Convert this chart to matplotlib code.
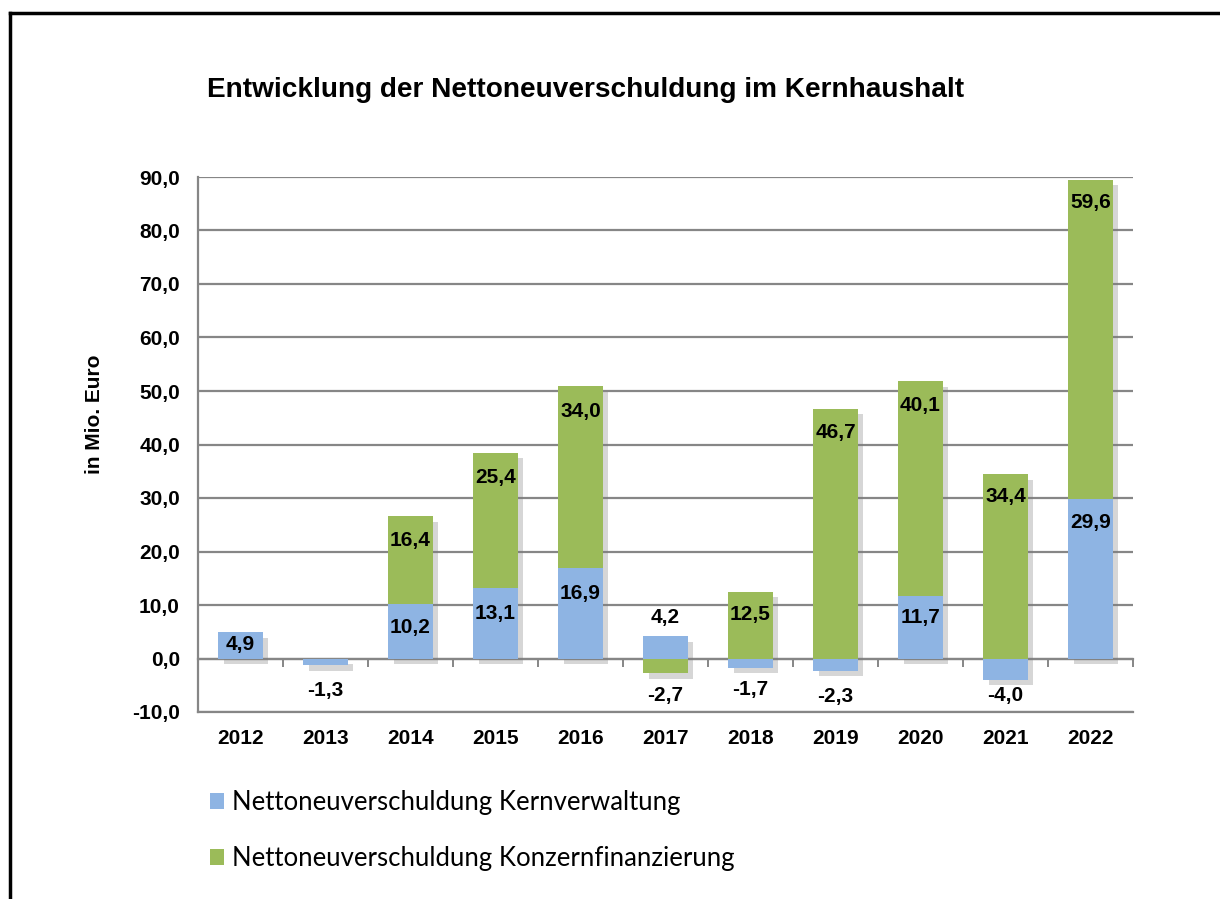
import numpy as np
import matplotlib
matplotlib.use("Agg")
import matplotlib.pyplot as plt
import matplotlib.patheffects as pe
from matplotlib.lines import Line2D

# Daten (in Mio. Euro)
jahre = ["2012", "2013", "2014", "2015", "2016", "2017", "2018", "2019", "2020", "2021", "2022"]
kernverwaltung = [4.9, -1.3, 10.2, 13.1, 16.9, 4.2, -1.7, -2.3, 11.7, -4.0, 29.9]
konzernfinanzierung = [0.0, 0.0, 16.4, 25.4, 34.0, -2.7, 12.5, 46.7, 40.1, 34.4, 59.6]

# Beschriftungs-Versatz in Pixeln (relativ zum Balkenende)
versatz_kern = [-12, -25, -24, -25, -25, 19, -22, -26, -22, -16, -24]
versatz_konzern = [0, 0, -24, -25, -25, -23, -23, -24, -24, -22, -23]

blau = "#8EB4E3"
gruen = "#9BBB59"
grau = "#868686"

plt.rcParams["font.family"] = ["Liberation Sans", "DejaVu Sans"]

fig = plt.figure(figsize=(12.2, 8.99), dpi=100)
ax = fig.add_axes([198 / 1220, 187 / 899, 935 / 1220, 535 / 899])

x = np.arange(len(jahre))
kern = np.array(kernverwaltung)
konz = np.array(konzernfinanzierung)
boden_konz = np.where(konz >= 0, np.maximum(kern, 0), np.minimum(kern, 0))

# Schatten hinter den gesamten Stapeln
oben = np.maximum(np.maximum(kern, 0), boden_konz + konz)
unten = np.minimum(np.minimum(kern, 0), boden_konz + konz)
schatten = ax.bar(x, oben - unten, width=0.52, bottom=unten, color="white", zorder=2)
for r in schatten:
    r.set_path_effects([pe.SimplePatchShadow(offset=(4, -4), shadow_rgbFace="#7a7a7a", alpha=0.3)])

b1 = ax.bar(x, kern, width=0.52, color=blau, zorder=3,
            label="Nettoneuverschuldung Kernverwaltung")
b2 = ax.bar(x, konz, width=0.52, bottom=boden_konz, color=gruen, zorder=3,
            label="Nettoneuverschuldung Konzernfinanzierung")

fmt = lambda v: f"{v:.1f}".replace(".", ",")

for i in range(len(jahre)):
    ax.annotate(fmt(kern[i]), xy=(x[i], kern[i]), xytext=(0, versatz_kern[i]),
                textcoords="offset pixels", ha="center", va="center",
                fontsize=15, fontweight="bold", zorder=5)
    if konz[i] != 0:
        ax.annotate(fmt(konz[i]), xy=(x[i], boden_konz[i] + konz[i]), xytext=(0, versatz_konzern[i]),
                    textcoords="offset pixels", ha="center", va="center",
                    fontsize=15, fontweight="bold", zorder=5)

ax.set_xlim(-0.5, len(jahre) - 0.5)
ax.set_ylim(-10, 90)
ax.set_yticks(np.arange(-10, 91, 10))
ax.set_yticklabels([fmt(v) for v in np.arange(-10, 91, 10)])
ax.set_xticks(x)
ax.set_xticklabels(jahre)
ax.tick_params(axis="both", length=0, labelsize=15)
ax.tick_params(axis="y", pad=13)
ax.tick_params(axis="x", pad=12)
for lbl in ax.get_xticklabels() + ax.get_yticklabels():
    lbl.set_fontweight("bold")

ax.grid(axis="y", color=grau, linewidth=1.6, zorder=0)
ax.set_axisbelow(True)
for s in ["top", "right"]:
    ax.spines[s].set_visible(False)
for s in ["left", "bottom"]:
    ax.spines[s].set_color(grau)
    ax.spines[s].set_linewidth(1.6)

# Nulllinie mit Teilstrichen zwischen den Jahren
null = ax.secondary_xaxis(0.1)
null.set_xticks(np.arange(len(jahre) + 1) - 0.5)
null.set_xticklabels([])
null.tick_params(length=6, width=1.4, color=grau, direction="out")
null.spines["bottom"].set_color(grau)
null.spines["bottom"].set_linewidth(1.6)

ax.set_ylabel("in Mio. Euro", fontsize=15, fontweight="bold")
ax.yaxis.set_label_coords(-0.100, 0.557)

fig.text(586 / 1220, 1 - 90 / 899, "Entwicklung der Nettoneuverschuldung im Kernhaushalt",
         ha="center", va="center", fontsize=20.2, fontweight="bold")

fig.legend(handles=[b1, b2], loc="upper left", bbox_to_anchor=(187 / 1220, 1 - 767 / 899),
           frameon=False, prop={"family": "Lato", "size": 18.5},
           handlelength=0.55, handleheight=0.55, handletextpad=0.3, labelspacing=1.2)

# Rahmen
fig.add_artist(Line2D([10 / 1220, 10 / 1220], [0, 1 - 13 / 899], transform=fig.transFigure,
                      color="black", linewidth=2.5))
fig.add_artist(Line2D([10 / 1220, 1], [1 - 13 / 899, 1 - 13 / 899], transform=fig.transFigure,
                      color="black", linewidth=2.5))

fig.savefig("out.png", dpi=100)
